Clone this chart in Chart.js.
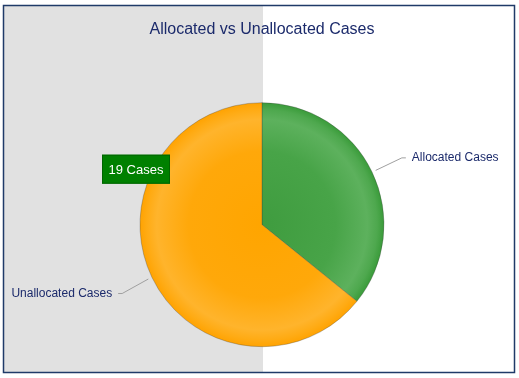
<!DOCTYPE html>
<html>
<head>
<meta charset="utf-8">
<script src="https://cdn.jsdelivr.net/npm/chart.js@4.4.1/dist/chart.umd.min.js"></script>
<style>
html,body{margin:0;padding:0;background:#fff;}
#wrap{width:519px;height:378px;position:relative;}
</style>
</head>
<body>
<div id="wrap"><canvas id="c" width="519" height="378"></canvas></div>
<script>
const chartTitle = 'Allocated vs Unallocated Cases';
const categories = ['Allocated Cases', 'Unallocated Cases'];
const caseCounts = [10.6, 19];
const calloutText = '19 Cases';

const NAVY = '#1b2a6b';
const FONT = '"Liberation Sans", Arial, sans-serif';

const greenStops = [[0,'#3f9c3f'],[0.6,'#48a448'],[0.86,'#5db15d'],[0.94,'#4ea84e'],[1,'#389a38']];
const orangeStops = [[0,'#ffa500'],[0.6,'#ffa80a'],[0.86,'#ffb42c'],[0.94,'#ffab14'],[1,'#ffa200']];
const sliceStops = [greenStops, orangeStops];

function sliceFill(ctx) {
  const stops = sliceStops[ctx.dataIndex % sliceStops.length];
  const chart = ctx.chart;
  const ca = chart.chartArea;
  if (!ca) return stops[0][1];
  const cx = (ca.left + ca.right) / 2, cy = (ca.top + ca.bottom) / 2;
  const r = Math.min(ca.right - ca.left, ca.bottom - ca.top) / 2;
  const g = chart.ctx.createRadialGradient(cx, cy, 0, cx, cy, r);
  stops.forEach(s => g.addColorStop(s[0], s[1]));
  return g;
}

const decor = {
  id: 'decor',
  beforeDraw(chart) {
    const c = chart.ctx;
    c.save();
    c.fillStyle = '#ffffff';
    c.fillRect(0, 0, chart.width, chart.height);
    c.fillStyle = '#e1e1e1';
    c.fillRect(4, 6, 259, 366);
    c.restore();
  },
  afterDatasetsDraw(chart) {
    const c = chart.ctx;
    const meta = chart.getDatasetMeta(0);
    c.save();
    meta.data.forEach((arc, i) => {
      const mid = (arc.startAngle + arc.endAngle) / 2;
      const dx = Math.cos(mid), dy = Math.sin(mid);
      const r = arc.outerRadius;
      const sx = arc.x + (r + 4) * dx, sy = arc.y + (r + 4) * dy;
      const ex = arc.x + (r + 33) * dx, ey = arc.y + (r + 33) * dy + (dy > 0 ? 2 : 0);
      const side = dx >= 0 ? 1 : -1;
      const hx = ex + side * 4;
      c.strokeStyle = '#a0a0a0';
      c.lineWidth = 1;
      c.beginPath();
      c.moveTo(sx, sy);
      c.lineTo(ex, ey);
      c.lineTo(hx, ey);
      c.stroke();
      c.fillStyle = NAVY;
      c.font = '12px ' + FONT;
      c.textBaseline = 'middle';
      c.textAlign = side > 0 ? 'left' : 'right';
      c.fillText(categories[i], hx + side * 6, ey);
    });
    const a0 = meta.data[0];
    const bx = a0.x - 160, by = a0.y - 70, bw = 68, bh = 29;
    c.fillStyle = '#008000';
    c.fillRect(bx, by, bw, bh);
    c.strokeStyle = '#006400';
    c.lineWidth = 1;
    c.strokeRect(bx + 0.5, by + 0.5, bw - 1, bh - 1);
    c.fillStyle = '#ffffff';
    c.font = '13px ' + FONT;
    c.textAlign = 'center';
    c.textBaseline = 'middle';
    c.fillText(calloutText, bx + bw / 2, by + bh / 2 + 1);
    c.fillStyle = NAVY;
    c.font = '16px ' + FONT;
    c.fillText(chartTitle, 262, 30);
    c.strokeStyle = '#1f3a68';
    c.lineWidth = 1.5;
    c.strokeRect(3.5, 5.5, 511, 367);
    c.restore();
  }
};

new Chart(document.getElementById('c'), {
  type: 'pie',
  data: {
    labels: categories,
    datasets: [{
      data: caseCounts,
      backgroundColor: sliceFill,
      borderColor: 'rgba(60,60,60,0.3)',
      borderWidth: 1
    }]
  },
  options: {
    responsive: false,
    animation: false,
    devicePixelRatio: 1,
    layout: { padding: { left: 5, right: 0, top: 102.2, bottom: 30.8 } },
    plugins: {
      legend: { display: false },
      title: { display: false },
      tooltip: { enabled: false }
    },
    events: []
  },
  plugins: [decor]
});
</script>
</body>
</html>
